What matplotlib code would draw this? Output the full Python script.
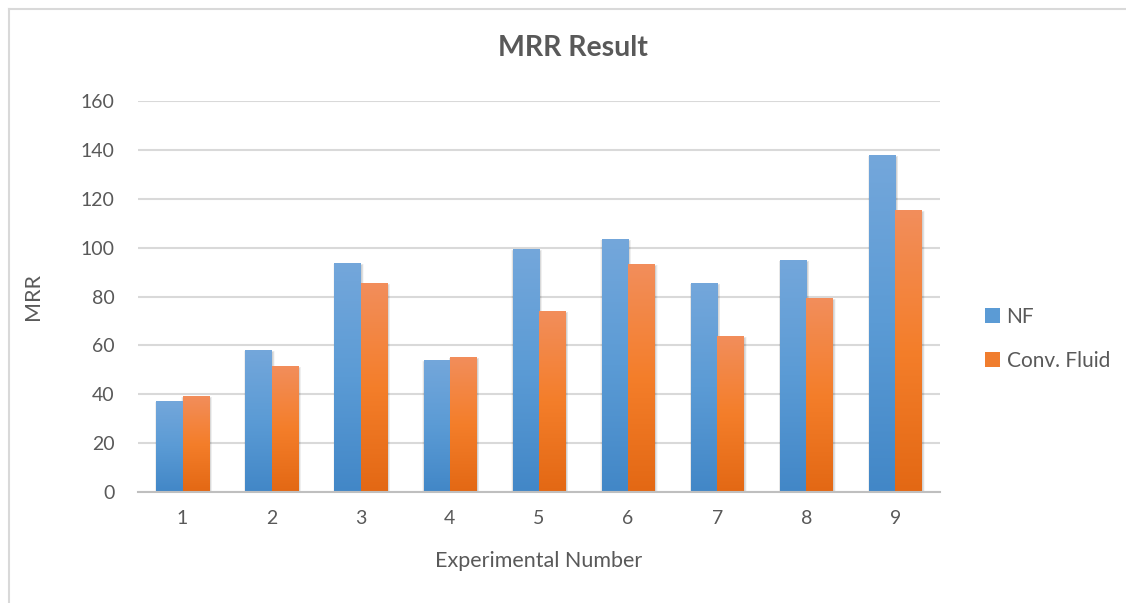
import numpy as np
import matplotlib
matplotlib.use("Agg")
import matplotlib.pyplot as plt
from matplotlib.patches import Rectangle, Patch
from matplotlib.lines import Line2D
from matplotlib.colors import LinearSegmentedColormap

plt.rcParams["font.family"] = ["Lato", "DejaVu Sans"]

# Data
experiments = ["1", "2", "3", "4", "5", "6", "7", "8", "9"]
nf_values = [37.4, 58.3, 93.9, 54.2, 99.6, 103.7, 85.7, 95.1, 138.1]
conv_fluid_values = [39.4, 51.7, 85.7, 55.4, 74.2, 93.5, 64.0, 79.5, 115.6]
series_names = ["NF", "Conv. Fluid"]
y_ticks = [0, 20, 40, 60, 80, 100, 120, 140, 160]

# Vertical gradients (top -> bottom) for each series
grad_nf = ["#74a7db", "#5b9bd5", "#4287c7"]
grad_cf = ["#f28e5c", "#f47e2a", "#e36814"]
mid_nf = "#5b9bd5"
mid_cf = "#f07d2e"

text_color = "#595959"
grid_color = "#d9d9d9"

W, H = 1126, 603
fig = plt.figure(figsize=(W / 100, H / 100), dpi=100)
fig.patch.set_facecolor("white")

# Chart-area border (top and left edges)
fig.add_artist(Line2D([9 / W, 9 / W], [0, 1 - 9 / H], color="#d9d9d9", lw=1.5,
                      transform=fig.transFigure))
fig.add_artist(Line2D([9 / W, 1], [1 - 9 / H, 1 - 9 / H], color="#d9d9d9", lw=1.5,
                      transform=fig.transFigure))

left, right, bottom, top = 138 / W, 940 / W, 1 - 492 / H, 1 - 101 / H
ax = fig.add_axes([left, bottom, right - left, top - bottom])

n = len(experiments)
x = np.arange(n)
bw = 0.296

ax.set_xlim(-0.5, n - 0.5)
ax.set_ylim(0, 160)

bars_nf = ax.bar(x - bw / 2, nf_values, bw, color=mid_nf, zorder=3)
bars_cf = ax.bar(x + bw / 2, conv_fluid_values, bw, color=mid_cf, zorder=3)

# Soft drop shadow behind each bar
def add_shadow(patch):
    bx, by = patch.get_x(), patch.get_y()
    w, h = patch.get_width(), patch.get_height()
    for i in range(1, 7):
        dx = 0.008 * i
        ax.add_patch(Rectangle((bx - dx * 0.5 + 0.01, by), w + dx, h - 1.2 + 0.12 * i,
                               facecolor="black", alpha=0.032, lw=0, zorder=2.5))

def add_gradient(patch, colors):
    cmap = LinearSegmentedColormap.from_list("g", colors)
    bx, by = patch.get_x(), patch.get_y()
    w, h = patch.get_width(), patch.get_height()
    grad = np.linspace(0, 1, 256).reshape(-1, 1)
    im = ax.imshow(grad, cmap=cmap, aspect="auto", origin="upper",
                   extent=(bx, bx + w, by, by + h), zorder=3.5,
                   interpolation="bilinear")
    im.set_clip_path(patch)

for p in bars_nf:
    add_shadow(p)
    add_gradient(p, grad_nf)
for p in bars_cf:
    add_shadow(p)
    add_gradient(p, grad_cf)

ax.set_xlim(-0.5, n - 0.5)
ax.set_ylim(0, 160)

ax.set_yticks(y_ticks)
ax.set_xticks(x)
ax.set_xticklabels(experiments)
ax.yaxis.grid(True, color=grid_color, lw=1.5, zorder=0)
ax.set_axisbelow(True)
ax.tick_params(axis="both", length=0, labelsize=14, colors=text_color)
ax.tick_params(axis="x", pad=13)
ax.tick_params(axis="y", pad=17)
for s in ["left", "right", "top"]:
    ax.spines[s].set_visible(False)
ax.spines["bottom"].set_color("#bfbfbf")
ax.spines["bottom"].set_linewidth(1.5)
ax.spines["bottom"].set_zorder(4)
ax.patch.set_alpha(0)

ax.set_xlabel("Experimental Number", fontsize=15.5, color=text_color, labelpad=17)
ax.set_ylabel("MRR", fontsize=15.5, color=text_color, labelpad=27)
fig.text(573 / W, 1 - 48 / H, "MRR Result", ha="center", va="center",
         fontsize=20.5, fontweight="bold", color=text_color)

# Legend
handles = [Patch(facecolor=mid_nf, edgecolor="none"),
           Patch(facecolor=mid_cf, edgecolor="none")]
leg = fig.legend(handles, series_names, loc="center left",
                 bbox_to_anchor=(966 / W, 1 - 339 / H), frameon=False,
                 fontsize=15, labelcolor=text_color, handlelength=0.75,
                 handleheight=0.75, handletextpad=0.3, labelspacing=1.15)

fig.savefig("out.png", dpi=100, facecolor="white")
